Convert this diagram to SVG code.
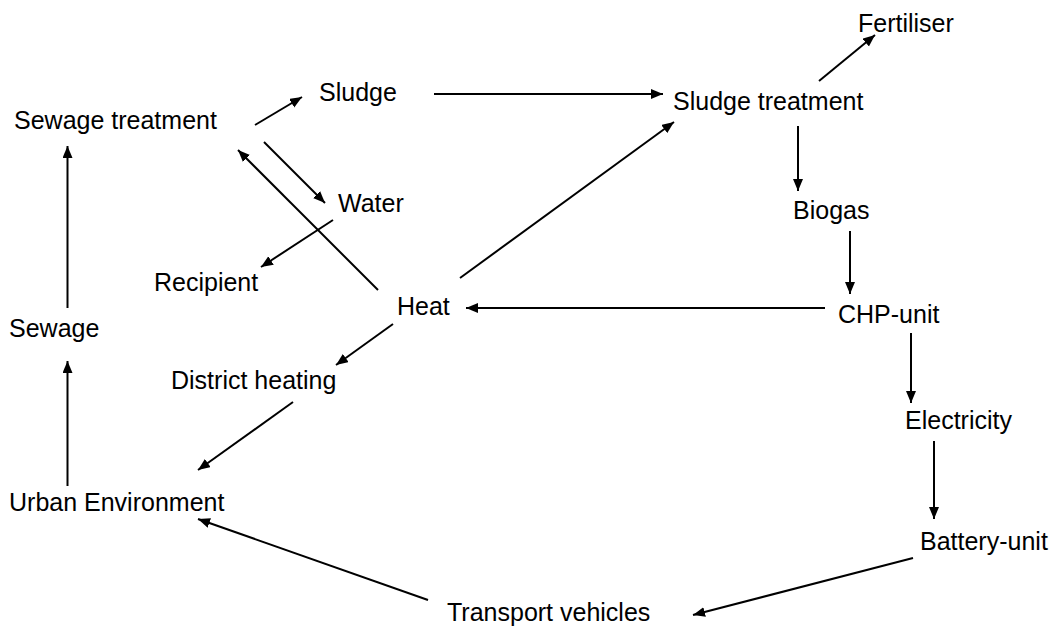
<svg xmlns="http://www.w3.org/2000/svg" width="1054" height="628" viewBox="0 0 1054 628">
<style>
text{font-family:"Liberation Sans",Arial,sans-serif;font-size:25px;fill:#000}
.c line{stroke:#000;stroke-width:2;marker-end:url(#ah)}
</style>
<defs>
<marker id="ah" markerUnits="userSpaceOnUse" markerWidth="13" markerHeight="11" refX="12" refY="5" orient="auto">
<path d="M0,0 L12,5 L0,10 z" fill="#000"/>
</marker>
</defs>
<rect width="1054" height="628" fill="#fff"/>
<g id="n-sewage-treatment"><text x="14" y="129">Sewage treatment</text></g>
<g id="n-sludge"><text x="319" y="101">Sludge</text></g>
<g id="n-sludge-treatment"><text x="673" y="110">Sludge treatment</text></g>
<g id="n-fertiliser"><text x="858" y="32">Fertiliser</text></g>
<g id="n-water"><text x="338" y="212">Water</text></g>
<g id="n-recipient"><text x="154" y="291">Recipient</text></g>
<g id="n-biogas"><text x="793" y="219">Biogas</text></g>
<g id="n-heat"><text x="397" y="315">Heat</text></g>
<g id="n-chp"><text x="838" y="323">CHP-unit</text></g>
<g id="n-sewage"><text x="9" y="337">Sewage</text></g>
<g id="n-district"><text x="171" y="389">District heating</text></g>
<g id="n-electricity"><text x="905" y="429">Electricity</text></g>
<g id="n-urban"><text x="9" y="511">Urban Environment</text></g>
<g id="n-battery"><text x="920" y="550">Battery-unit</text></g>
<g id="n-transport"><text x="447" y="621">Transport vehicles</text></g>
<g id="connectors" class="c">
<line x1="67.5" y1="308" x2="67.5" y2="146"/>
<line x1="67.5" y1="486" x2="67.5" y2="361"/>
<line x1="255" y1="125" x2="302" y2="97"/>
<line x1="264" y1="142" x2="325" y2="203"/>
<line x1="378" y1="290" x2="238" y2="150"/>
<line x1="333" y1="220" x2="261" y2="267"/>
<line x1="434" y1="94" x2="663" y2="94"/>
<line x1="460" y1="278" x2="674" y2="122"/>
<line x1="819" y1="81" x2="875" y2="35"/>
<line x1="798" y1="126" x2="798" y2="191"/>
<line x1="850" y1="231" x2="850" y2="294"/>
<line x1="825" y1="308" x2="466" y2="308"/>
<line x1="393" y1="324" x2="336" y2="365"/>
<line x1="293" y1="402" x2="198" y2="470"/>
<line x1="428" y1="600" x2="198" y2="519"/>
<line x1="911" y1="333" x2="911" y2="403"/>
<line x1="934" y1="441" x2="934" y2="519"/>
<line x1="913" y1="558" x2="693" y2="615"/>
</g>
</svg>
